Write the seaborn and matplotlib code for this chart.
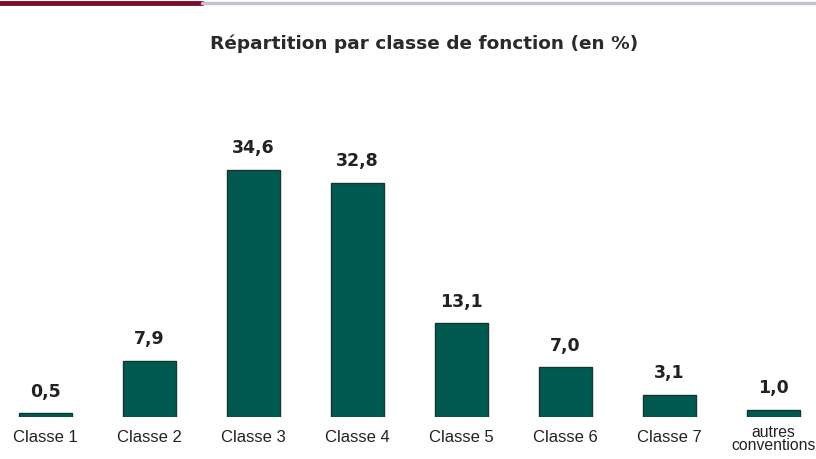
import matplotlib
matplotlib.use("Agg")
import matplotlib.pyplot as plt
import seaborn as sns
import pandas as pd
from matplotlib.lines import Line2D

# data
categories = ["Classe 1", "Classe 2", "Classe 3", "Classe 4",
              "Classe 5", "Classe 6", "Classe 7", "autres\nconventions"]
values = [0.5, 7.9, 34.6, 32.8, 13.1, 7.0, 3.1, 1.0]
labels = ["0,5", "7,9", "34,6", "32,8", "13,1", "7,0", "3,1", "1,0"]

df = pd.DataFrame({"classe": categories, "pct": values})

sns.set_theme(style="white")
plt.rcParams['font.family'] = ['Liberation Sans', 'DejaVu Sans']

fig = plt.figure(figsize=(8.16, 4.59), dpi=100)
ax = fig.add_axes([0, 0.0915, 1, 0.82])

sns.barplot(data=df, x="classe", y="pct", color="#005a50", width=0.51,
            edgecolor="#17352f", linewidth=1.0, saturation=1, ax=ax)

for i, (v, lab) in enumerate(zip(values, labels)):
    ax.annotate(lab, (i, v), xytext=(0, 9), textcoords="offset points",
                ha="center", va="bottom", fontsize=12.5, fontweight="bold",
                color="#222222", family="DejaVu Sans")

ax.set_xlim(-0.433, 7.41)
ax.set_ylim(0, 0.82 * 459 / 7.14)
ax.set_xlabel("")
ax.set_ylabel("")
ax.set_yticks([])
ax.tick_params(axis="x", length=0, pad=9, labelsize=12, labelcolor="#222222")
for lbl in ax.get_xticklabels():
    lbl.set_linespacing(0.8)
last = ax.get_xticklabels()[-1]
last.set_fontsize(11.3)
last.set_y(last.get_position()[1] + 0.012)
sns.despine(ax=ax, left=True, bottom=True)

fig.text(0.52, 0.905, "Répartition par classe de fonction (en %)",
         ha="center", va="center", fontsize=13.3, fontweight="bold",
         color="#2a2a2a", family="DejaVu Sans")

# top rule
fig.add_artist(Line2D([0, 0.248], [0.9935, 0.9935], color="#7a0e2a", lw=3.5))
fig.add_artist(Line2D([0.248, 1], [0.9945, 0.9945], color="#c4c4cc", lw=2.5))

fig.savefig("out.png", dpi=100)
